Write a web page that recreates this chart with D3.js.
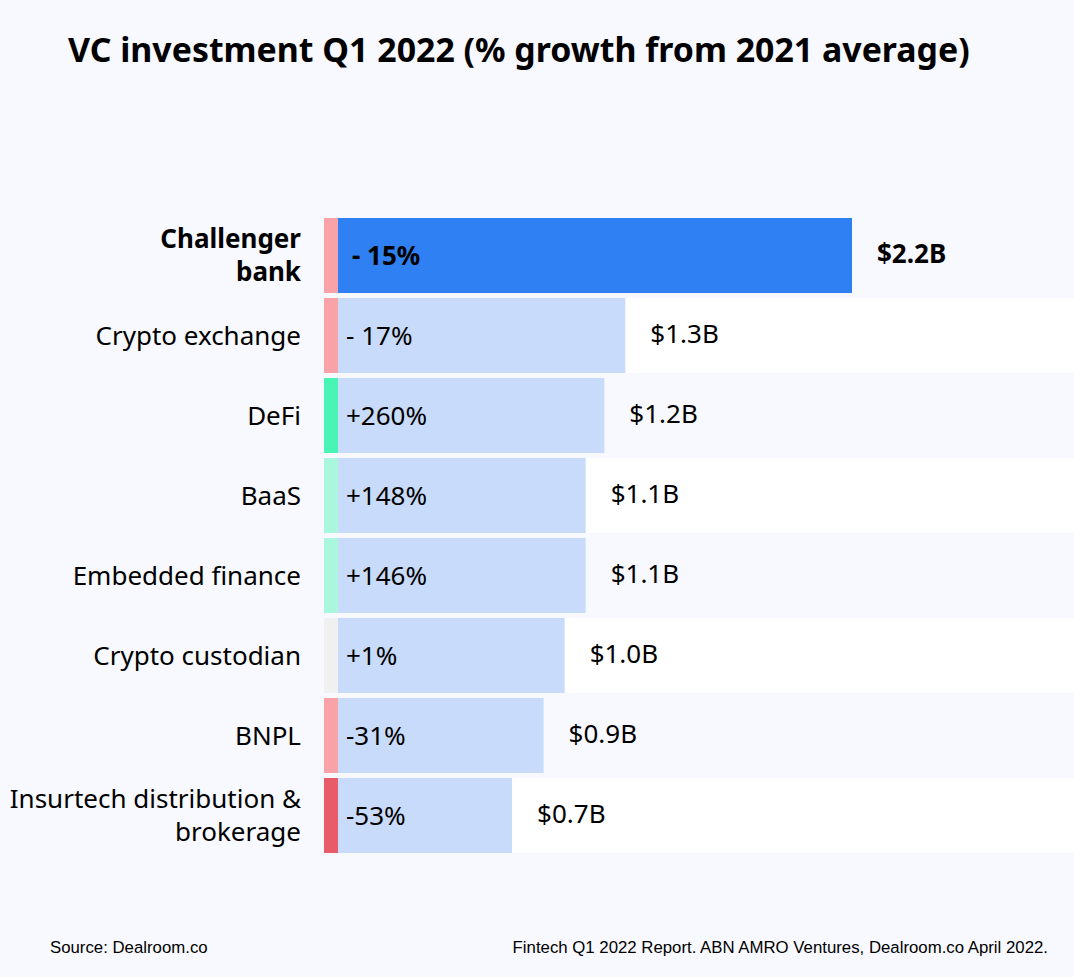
<!DOCTYPE html>
<html lang="en">
  <head>
    <meta charset="UTF-8" />
    <title>VC investment Q1 2022</title>
    <style>
      body {
        margin: 0;
        background-color: #f8f9fe;
      }
      #chart {
        width: 1074px;
        height: 977px;
      }
      text {
        font-family: "Noto Sans", sans-serif;
        fill: #000;
      }
      .footer {
        font-family: "Liberation Sans", Arial, sans-serif;
        font-size: 16.8px;
      }
    </style>
  </head>
  <body>
    <div id="chart"></div>

    <script src="https://d3js.org/d3.v7.min.js"></script>
    <script>
      // data
      const categories = [
        "Challenger bank",
        "Crypto exchange",
        "DeFi",
        "BaaS",
        "Embedded finance",
        "Crypto custodian",
        "BNPL",
        "Insurtech distribution & brokerage",
      ];
      // label lines as they wrap in the original
      const categoryLines = [
        ["Challenger", "bank"],
        ["Crypto exchange"],
        ["DeFi"],
        ["BaaS"],
        ["Embedded finance"],
        ["Crypto custodian"],
        ["BNPL"],
        ["Insurtech distribution &", "brokerage"],
      ];
      // investment in $B
      const investment = [2.2, 1.23, 1.14, 1.06, 1.06, 0.97, 0.88, 0.745];
      const investmentLabels = ["$2.2B", "$1.3B", "$1.2B", "$1.1B", "$1.1B", "$1.0B", "$0.9B", "$0.7B"];
      // growth vs 2021 average, %
      const growth = [-15, -17, 260, 148, 146, 1, -31, -53];
      const growthLabels = ["- 15%", "- 17%", "+260%", "+148%", "+146%", "+1%", "-31%", "-53%"];
      const highlight = "Challenger bank";

      const width = 1074;
      const height = 977;

      const svg = d3
        .select("#chart")
        .append("svg")
        .attr("width", width)
        .attr("height", height);

      svg
        .append("rect")
        .attr("width", width)
        .attr("height", height)
        .attr("fill", "#f8f9fe");

      const x = d3.scaleLinear().domain([0, 2.2]).range([338, 852]);

      const y = d3
        .scaleBand()
        .domain(categories)
        .range([218, 853])
        .paddingInner(0.0625)
        .paddingOuter(0);

      const growthColor = d3
        .scaleThreshold()
        .domain([-50, -5, 5, 200])
        .range(["#e85b69", "#f9a3a8", "#f0f0f0", "#aaf7dd", "#48f5b5"]);

      const rows = categories.map((c, i) => ({
        name: c,
        lines: categoryLines[i],
        value: investment[i],
        valueLabel: investmentLabels[i],
        growth: growth[i],
        growthLabel: growthLabels[i],
        i: i,
      }));

      // title
      const title = svg
        .append("text")
        .attr("x", 68)
        .attr("y", 62)
        .attr("font-size", 32)
        .attr("font-weight", 700)
        .text("VC investment Q1 2022 (% growth from 2021 average)");
      // fit the title to the width it has in the original
      const tw = title.node().getComputedTextLength();
      title.attr("font-size", (32 * 902) / tw);

      // alternating white row bands
      svg
        .selectAll("rect.band")
        .data(rows.filter((d) => d.i % 2 === 1))
        .enter()
        .append("rect")
        .attr("class", "band")
        .attr("x", 324)
        .attr("y", (d) => y(d.name))
        .attr("width", width - 324)
        .attr("height", y.bandwidth())
        .attr("fill", "#ffffff");

      // growth colour strip
      svg
        .selectAll("rect.strip")
        .data(rows)
        .enter()
        .append("rect")
        .attr("class", "strip")
        .attr("x", 324)
        .attr("y", (d) => y(d.name))
        .attr("width", x(0) - 324)
        .attr("height", y.bandwidth())
        .attr("fill", (d) => growthColor(d.growth));

      // investment bars
      svg
        .selectAll("rect.bar")
        .data(rows)
        .enter()
        .append("rect")
        .attr("class", "bar")
        .attr("x", x(0))
        .attr("y", (d) => y(d.name))
        .attr("width", (d) => x(d.value) - x(0))
        .attr("height", y.bandwidth())
        .attr("fill", (d) => (d.name === highlight ? "#2f80f3" : "#c9dbfa"));

      // growth labels inside bars
      svg
        .selectAll("text.growth")
        .data(rows)
        .enter()
        .append("text")
        .attr("class", "growth")
        .attr("x", (d) => x(0) + (d.name === highlight ? 14 : 8))
        .attr("y", (d) => y(d.name) + y.bandwidth() / 2)
        .attr("dy", "0.36em")
        .attr("font-size", 26)
        .attr("font-weight", (d) => (d.name === highlight ? 700 : 400))
        .text((d) => d.growthLabel);

      // investment labels
      svg
        .selectAll("text.value")
        .data(rows)
        .enter()
        .append("text")
        .attr("class", "value")
        .attr("x", (d) => x(d.value) + 25)
        .attr("y", (d) => y(d.name) + y.bandwidth() / 2 - 2)
        .attr("dy", "0.36em")
        .attr("font-size", 26)
        .attr("font-weight", (d) => (d.name === highlight ? 700 : 400))
        .text((d) => d.valueLabel);

      // category labels
      const lineH = 33;
      const cat = svg
        .selectAll("text.cat")
        .data(rows)
        .enter()
        .append("text")
        .attr("class", "cat")
        .attr("text-anchor", "end")
        .attr("font-size", 26)
        .attr("font-weight", (d) => (d.name === highlight ? 700 : 400));

      cat
        .selectAll("tspan")
        .data((d) =>
          d.lines.map((l, k) => ({
            text: l,
            yy:
              y(d.name) +
              y.bandwidth() / 2 +
              (k - (d.lines.length - 1) / 2) * lineH,
          }))
        )
        .enter()
        .append("tspan")
        .attr("x", 301)
        .attr("y", (d) => d.yy)
        .attr("dy", "0.36em")
        .text((d) => d.text);

      // footer
      svg
        .append("text")
        .attr("class", "footer")
        .attr("x", 50)
        .attr("y", 953)
        .text("Source: Dealroom.co");

      svg
        .append("text")
        .attr("class", "footer")
        .attr("x", 1048)
        .attr("y", 953)
        .attr("text-anchor", "end")
        .text("Fintech Q1 2022 Report. ABN AMRO Ventures, Dealroom.co April 2022.");
    </script>
  </body>
</html>
